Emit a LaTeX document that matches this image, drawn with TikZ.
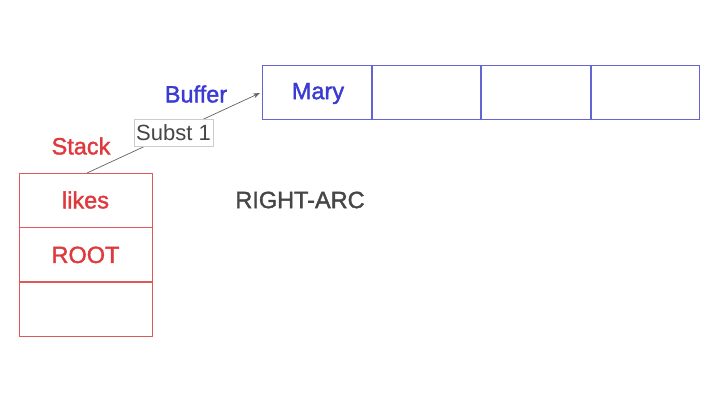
\documentclass[tikz,border=0pt]{standalone}
\usepackage{fontspec}
\setmainfont{Liberation Sans}
\newfontfamily\medfont{Liberation Sans}[FakeBold=1.6]
\usetikzlibrary{arrows.meta}
\definecolor{sred}{RGB}{222,58,62}
\definecolor{sredline}{RGB}{220,90,90}
\definecolor{bblue}{RGB}{58,58,212}
\definecolor{bblueline}{RGB}{100,100,210}
\definecolor{dgray}{RGB}{70,70,70}
\tikzset{
  stackcell/.style={draw=sredline, line width=0.9pt, minimum width=133pt, minimum height=54pt, inner sep=0pt, text=sred, font=\medfont\fontsize{23.5}{26}\selectfont},
  bufcell/.style={draw=bblueline, line width=0.9pt, minimum width=108.5pt, minimum height=54pt, inner sep=0pt, text=bblue, font=\medfont\fontsize{23.5}{26}\selectfont},
  lbl/.style={font=\medfont\fontsize{23.5}{26}\selectfont, inner sep=0pt},
}
\begin{document}
\begin{tikzpicture}[x=1pt,y=-1pt]
\useasboundingbox[fill=white] (0,0) rectangle (720,405);
% stack
\node[stackcell] (s1) at (85.5,200) {likes};
\node[stackcell, anchor=north] (s2) at (s1.south) {ROOT};
\node[stackcell, anchor=north] (s3) at (s2.south) {};
% buffer
\node[bufcell] (b1) at (317,92) {};
\node[text=bblue, font=\medfont\fontsize{23.5}{26}\selectfont] (mary) at (318,93.5) {Mary};
\node[bufcell, anchor=west] (b2) at (b1.east) {};
\node[bufcell, anchor=west] (b3) at (b2.east) {};
\node[bufcell, anchor=west] (b4) at (b3.east) {};
% labels
\node[lbl, text=sred] (stk) at (81,146) {Stack};
\node[lbl, text=bblue] (buf) at (196,94) {Buffer};
\node[lbl, text=dgray] (ra) at (300,200) {RIGHT-ARC};
% arrow
\coordinate (tip) at (260,93);
\coordinate (start) at (87,173);
\draw[dgray!85, line width=0.7pt, -{Stealth[length=7pt,width=5pt]}] (start) -- (tip)
  node[midway, fill=white, draw=black!20, line width=0.6pt, text=dgray, font=\fontsize{22}{24}\selectfont, inner xsep=2pt, inner ysep=3pt, minimum height=27pt] (sub) {Subst 1};
\end{tikzpicture}
\end{document}
